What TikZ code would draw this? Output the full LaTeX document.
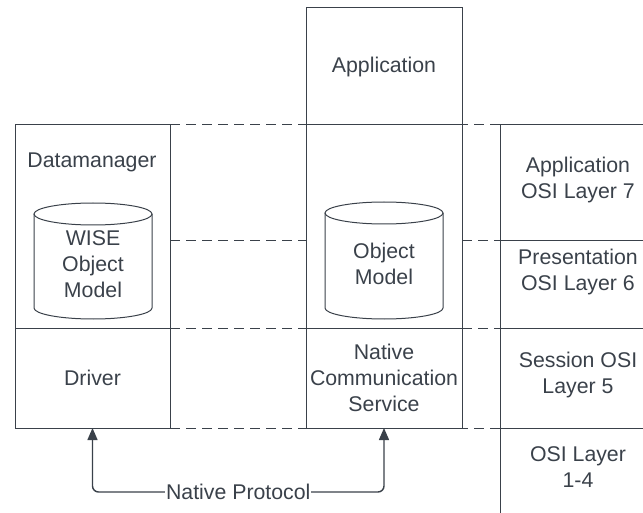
\documentclass[tikz,border=0pt]{standalone}
\usepackage{fontspec}
\setmainfont{Liberation Sans}
\usetikzlibrary{arrows.meta,calc}
\definecolor{ink}{HTML}{3A414A}
\begin{document}
\begin{tikzpicture}[x=1pt,y=-1pt,line width=1pt,
  box/.style={draw=ink,inner sep=0pt,outer sep=0pt,anchor=north west},
  txt/.style={text=ink,font=\fontsize{21.3}{26}\selectfont,align=center,inner sep=0pt},
  guide/.style={draw=ink,dash pattern=on 10pt off 6pt},
  solid line/.style={draw=ink},
  link/.style={draw=ink,line width=1.4pt,rounded corners=6pt,{Triangle[length=12pt,width=10pt]}-{Triangle[length=12pt,width=10pt]}}]
\useasboundingbox (0,0) rectangle (643,513);

% left stack: data manager over driver
\node[box,minimum width=155pt,minimum height=203pt] (dm) at (15,125) {};
\node[box,minimum width=155pt,minimum height=100pt,txt,anchor=north west,draw=ink] (drv) at (15,328) {Driver};
\node[txt] (dmlabel) at (92,162) {Datamanager};

% middle stack: application, object model, communication service
\node[box,minimum width=156pt,minimum height=117pt,txt,anchor=north west,draw=ink] (app) at (306,8) {Application};
\node[box,minimum width=156pt,minimum height=203pt] (om) at (306,125) {};
\node[box,minimum width=156pt,minimum height=100pt,txt,anchor=north west,draw=ink] (ncs) at (306,328) {Native\\Communication\\Service};

% database cylinders
\draw[ink] (34,214) -- (34,308) arc (180:0:59 and 11) -- (152,214);
\draw[ink] (93,214) ellipse (59 and 11);
\node[txt] (wise) at (93,264) {WISE\\Object\\Model};
\draw[ink] (325,213) -- (325,308) arc (180:0:59 and 11) -- (443,213);
\draw[ink] (384,213) ellipse (59 and 11);
\node[txt] (objmodel) at (384,264) {Object\\Model};

% OSI layer column
\coordinate (c7) at (500,125);
\coordinate (c6) at (500,241);
\coordinate (c5) at (500,328);
\coordinate (c4) at (500,428);
\coordinate (cbot) at (500,513);
\draw[solid line] (c7) -- (cbot);
\foreach \c in {c7,c6,c5,c4} \draw[solid line] (\c) -- ++(150,0);
\node[txt] (l7) at (578,180) {Application\\OSI Layer 7};
\node[txt] (l6) at (578,272) {Presentation\\OSI Layer 6};
\node[txt] (l5) at (578,375) {Session OSI\\Layer 5};
\node[txt] (l14) at (578,467) {OSI Layer\\1-4};

% dashed layer guides
\draw[guide] (dm.north east) -- (c7);
\draw[guide] (dm.east |- c6) -- (om.west |- c6);
\draw[guide] (om.east |- c6) -- (c6);
\draw[guide] (dm.south east) -- (om.south west);
\draw[guide] (om.south east) -- (c5);
\draw[guide] (drv.south east) -- (c4);

% native protocol link
\coordinate (turnl) at (drv.south |- 0,492);
\coordinate (turnr) at (ncs.south |- 0,492);
\draw[link] (drv.south) -- (turnl) -- (turnr) -- (ncs.south);
\node[txt,fill=white,inner sep=1pt] (proto) at ($(turnl)!0.5!(turnr)$) {Native Protocol};
\end{tikzpicture}
\end{document}
